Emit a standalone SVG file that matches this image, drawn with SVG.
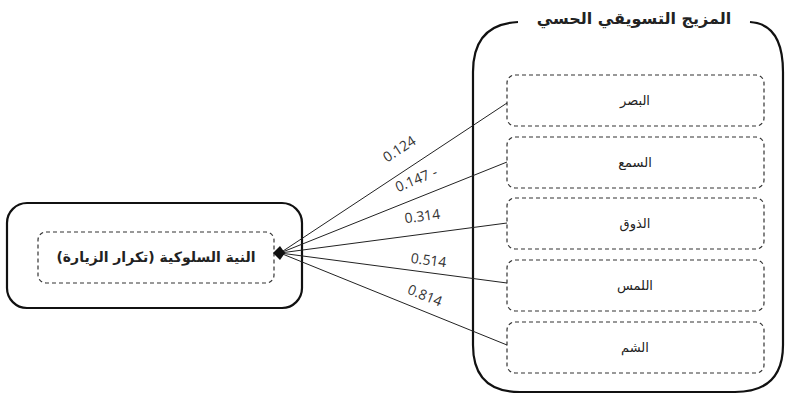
<svg xmlns="http://www.w3.org/2000/svg" width="786" height="395" viewBox="0 0 786 395">
<style>
.ar{font-family:"DejaVu Sans","Noto Sans",sans-serif;direction:rtl;unicode-bidi:embed;text-anchor:middle;fill:#222}
.lbl{font-size:13px}
.bold{font-weight:bold}
.dash{fill:#fff;stroke:#333;stroke-width:1.2;stroke-dasharray:4 3}
.solid{fill:none;stroke:#111;stroke-width:2.2}
.num{font-family:"Open Sans","DejaVu Sans",sans-serif;font-size:14px;fill:#333;text-anchor:middle}
.con{stroke:#222;stroke-width:1;fill:none}
</style>
<rect width="786" height="395" fill="#fff"/>
<g id="sensory-mix">
<path class="solid" d="M518,22 Q473,24 473,72 L473,345 Q473,392 520,392 L735,392 Q783,392 783,345 L783,72 Q783,24 750,22"/>
<text class="ar bold" x="634" y="24" font-size="16">المزيج التسويقي الحسي</text>
</g>
<g id="sight"><rect class="dash" x="507" y="75" width="257" height="51" rx="8"/><text class="ar lbl" x="635" y="105">البصر</text></g>
<g id="hearing"><rect class="dash" x="507" y="137" width="257" height="51" rx="8"/><text class="ar lbl" x="635" y="167">السمع</text></g>
<g id="taste"><rect class="dash" x="507" y="198" width="257" height="51" rx="8"/><text class="ar lbl" x="635" y="228">الذوق</text></g>
<g id="touch"><rect class="dash" x="507" y="260" width="257" height="51" rx="8"/><text class="ar lbl" x="635" y="290">اللمس</text></g>
<g id="smell"><rect class="dash" x="507" y="322" width="257" height="51" rx="8"/><text class="ar lbl" x="635" y="352">الشم</text></g>
<g id="intention">
<rect class="solid" x="7" y="203" width="295" height="105" rx="20"/>
<rect class="dash" x="38" y="232" width="236" height="51" rx="8"/>
<text class="ar bold" x="156" y="262" font-size="14">النية السلوكية (تكرار الزيارة)</text>
</g>
<g id="connectors">
<line class="con" x1="280" y1="253" x2="507" y2="103"/>
<line class="con" x1="280" y1="253" x2="507" y2="162"/>
<line class="con" x1="280" y1="253" x2="507" y2="223"/>
<line class="con" x1="280" y1="253" x2="507" y2="283"/>
<line class="con" x1="280" y1="253" x2="507" y2="345"/>
<polygon points="273,253 280,246 285,253 280,260" fill="#111"/>
<text class="num" transform="translate(402,153) rotate(-33)">0.124</text>
<text class="num" transform="translate(418,184) rotate(-22)">0.147 -</text>
<text class="num" transform="translate(423,221) rotate(-7.5)">0.314</text>
<text class="num" transform="translate(428,265) rotate(7.5)">0.514</text>
<text class="num" transform="translate(423,300) rotate(22)">0.814</text>
</g>
</svg>
